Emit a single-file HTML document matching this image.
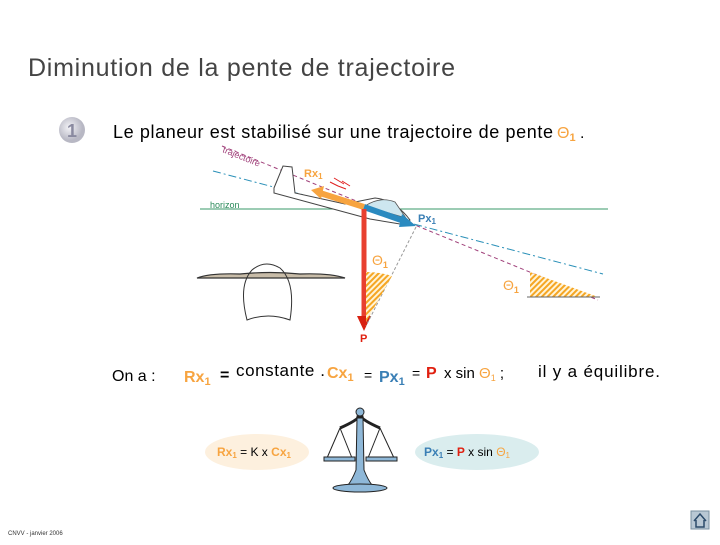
<!DOCTYPE html>
<html><head><meta charset="utf-8"><style>
body{margin:0;width:720px;height:540px;background:#fff;overflow:hidden;font-family:"Liberation Sans",sans-serif}
</style></head><body>
<svg width="720" height="540" xmlns="http://www.w3.org/2000/svg" font-family="Liberation Sans, sans-serif">
<defs>
<pattern id="h" width="4" height="4" patternUnits="userSpaceOnUse" patternTransform="rotate(45)">
<rect width="4" height="4" fill="#fff4d8"/><rect width="2" height="4" fill="#f5a623"/></pattern>
<radialGradient id="b" cx="0.4" cy="0.4"><stop offset="0" stop-color="#f4f4f8"/><stop offset="1" stop-color="#b8b8c4"/></radialGradient>
</defs>
<text x="28" y="76" font-size="25" fill="#444" textLength="427" lengthAdjust="spacing">Diminution de la pente de trajectoire</text>
<circle cx="72" cy="130" r="13" fill="url(#b)"/>
<text x="72" y="137" font-size="18" font-weight="bold" fill="#8a8aa0" text-anchor="middle">1</text>
<text x="113" y="138" font-size="18" fill="#000" textLength="440" lengthAdjust="spacing">Le planeur est stabilisé sur une trajectoire de pente</text>
<text x="557" y="138" font-size="16" fill="#f7a440">Θ<tspan font-size="11" dy="3" font-weight="bold">1</tspan></text>
<text x="580" y="138" font-size="16">.</text>
<!-- lines -->
<line x1="222" y1="146" x2="598" y2="300" stroke="#a0407a" stroke-width="1" stroke-dasharray="4,3"/>
<text x="222" y="152" font-size="9" fill="#a0407a" transform="rotate(22 222 152)">trajectoire</text>
<line x1="213" y1="171" x2="603" y2="274" stroke="#2a90b8" stroke-width="1" stroke-dasharray="8,3,2,3"/>
<line x1="200" y1="209" x2="608" y2="209" stroke="#3a9a6a" stroke-width="1"/>
<text x="210" y="208" font-size="9" fill="#2a8a5a">horizon</text>
<!-- glider -->
<path d="M274,188 L283,166 L292,167 L295,193 L345,204 L375,198 Q395,200 410,220 L400,224 L370,219 L274,193 Z" fill="#fff" stroke="#444" stroke-width="1"/>
<path d="M365,206 Q380,196 395,202 L406,218 Z" fill="#cde6ef" stroke="#555" stroke-width="0.8"/>
<!-- arrows -->
<line x1="364" y1="207" x2="320" y2="193" stroke="#f7a440" stroke-width="6"/>
<polygon points="311,190 324,186 321,199" fill="#f7a440"/>
<line x1="364" y1="207" x2="404" y2="221" stroke="#2a8ac0" stroke-width="6"/>
<polygon points="416,226 402,214 399,227" fill="#2a8ac0"/>
<line x1="364" y1="209" x2="364" y2="318" stroke="#e84030" stroke-width="5"/>
<polygon points="357,316 371,316 364,331" fill="#d82010"/>
<path d="M330,182 l8,4 M334,178 l10,6 M338,186 l8,3 M342,181 l8,5" stroke="#e02020" stroke-width="1"/>
<text x="304" y="177" font-size="11" font-weight="bold" fill="#f7a440">Rx<tspan font-size="8" dy="2">1</tspan></text>
<text x="418" y="222" font-size="11" font-weight="bold" fill="#3a7fb5">Px<tspan font-size="8" dy="2">1</tspan></text>
<text x="360" y="342" font-size="11" font-weight="bold" fill="#e02010">P</text>
<line x1="416" y1="227" x2="366" y2="326" stroke="#999" stroke-width="1" stroke-dasharray="3,2"/>
<path d="M366,272 Q380,272 392,276 L366,322 Z" fill="url(#h)"/>
<text x="372" y="265" font-size="14" fill="#f7a440">Θ<tspan font-size="9" font-weight="bold" dy="3">1</tspan></text>
<path d="M530,272 L598,297 L530,297 Z" fill="url(#h)"/>
<line x1="527" y1="297" x2="600" y2="297" stroke="#666" stroke-width="1"/>
<text x="503" y="290" font-size="14" fill="#f7a440">Θ<tspan font-size="9" font-weight="bold" dy="3">1</tspan></text>
<!-- arch -->
<path d="M197,278 Q210,273 240,274 Q270,271 300,274 Q330,273 345,278 Z" stroke="#333" stroke-width="1.2" fill="#c8bca8"/>
<path d="M247,320 Q238,285 252,270 Q265,259 280,268 Q296,282 290,320 Q268,312 247,320 Z" fill="none" stroke="#333" stroke-width="1"/>
<!-- equation -->
<text x="112" y="381" font-size="16" fill="#000">On a :</text>
<text x="184" y="382" font-size="16" font-weight="bold" fill="#f7a440">Rx<tspan font-size="11" dy="3">1</tspan></text>
<text x="220" y="380" font-size="16" font-weight="bold">=</text>
<text x="236" y="376" font-size="17" textLength="89" lengthAdjust="spacing">constante .</text>
<text x="327" y="378" font-size="16" font-weight="bold" fill="#f7a440">Cx<tspan font-size="11" dy="3">1</tspan></text>
<text x="364" y="380" font-size="14">=</text>
<text x="379" y="382" font-size="16" font-weight="bold" fill="#3a7fb5">Px<tspan font-size="11" dy="3">1</tspan></text>
<text x="412" y="378" font-size="14">=</text>
<text x="426" y="378" font-size="16" font-weight="bold" fill="#e02010">P</text>
<text x="444" y="378" font-size="15">x sin <tspan fill="#f7a440">Θ<tspan font-size="9" dy="3">1</tspan></tspan><tspan dy="-3"> ;</tspan></text>
<text x="538" y="377" font-size="17" textLength="122" lengthAdjust="spacing">il y a équilibre.</text>
<!-- ellipses -->
<ellipse cx="257" cy="452" rx="52" ry="18" fill="#fdf0de"/>
<text x="217" y="456" font-size="12"><tspan fill="#f7a440" font-weight="bold">Rx<tspan font-size="8" dy="2">1</tspan></tspan><tspan dy="-2"> = K x </tspan><tspan fill="#f7a440" font-weight="bold">Cx<tspan font-size="8" dy="2">1</tspan></tspan></text>
<ellipse cx="477" cy="452" rx="62" ry="18" fill="#daedee"/>
<text x="424" y="456" font-size="12"><tspan fill="#3a7fb5" font-weight="bold">Px<tspan font-size="8" dy="2">1</tspan></tspan><tspan dy="-2"> = </tspan><tspan fill="#e02010" font-weight="bold">P</tspan> x sin <tspan fill="#f7a440">Θ<tspan font-size="8" dy="2">1</tspan></tspan></text>
<!-- scale -->
<g stroke="#222" fill="#8fb8d8" stroke-width="1">
<path d="M340,428 Q358,420 358,417 L362,417 Q362,420 380,428" fill="none" stroke-width="3"/>
<line x1="340" y1="428" x2="327" y2="458" fill="none"/><line x1="340" y1="428" x2="352" y2="458" fill="none"/>
<line x1="380" y1="428" x2="368" y2="458" fill="none"/><line x1="380" y1="428" x2="394" y2="458" fill="none"/>
<rect x="324" y="457" width="31" height="4"/><rect x="366" y="457" width="31" height="4"/>
<circle cx="360" cy="412" r="4"/>
<path d="M357,418 L363,418 L364,470 Q368,480 372,485 L348,485 Q352,480 356,470 Z"/>
<ellipse cx="360" cy="488" rx="27" ry="4"/>
</g>
<text x="8" y="535" font-size="6" fill="#333">CNVV - janvier 2006</text>
<rect x="691" y="511" width="18" height="18" fill="#b8c8d4" stroke="#7890a0"/>
<path d="M694,521 L700,514 L706,521 M696,520 V527 H704 V520" fill="none" stroke="#2a4a6a" stroke-width="1.5"/>
</svg>
</body></html>
